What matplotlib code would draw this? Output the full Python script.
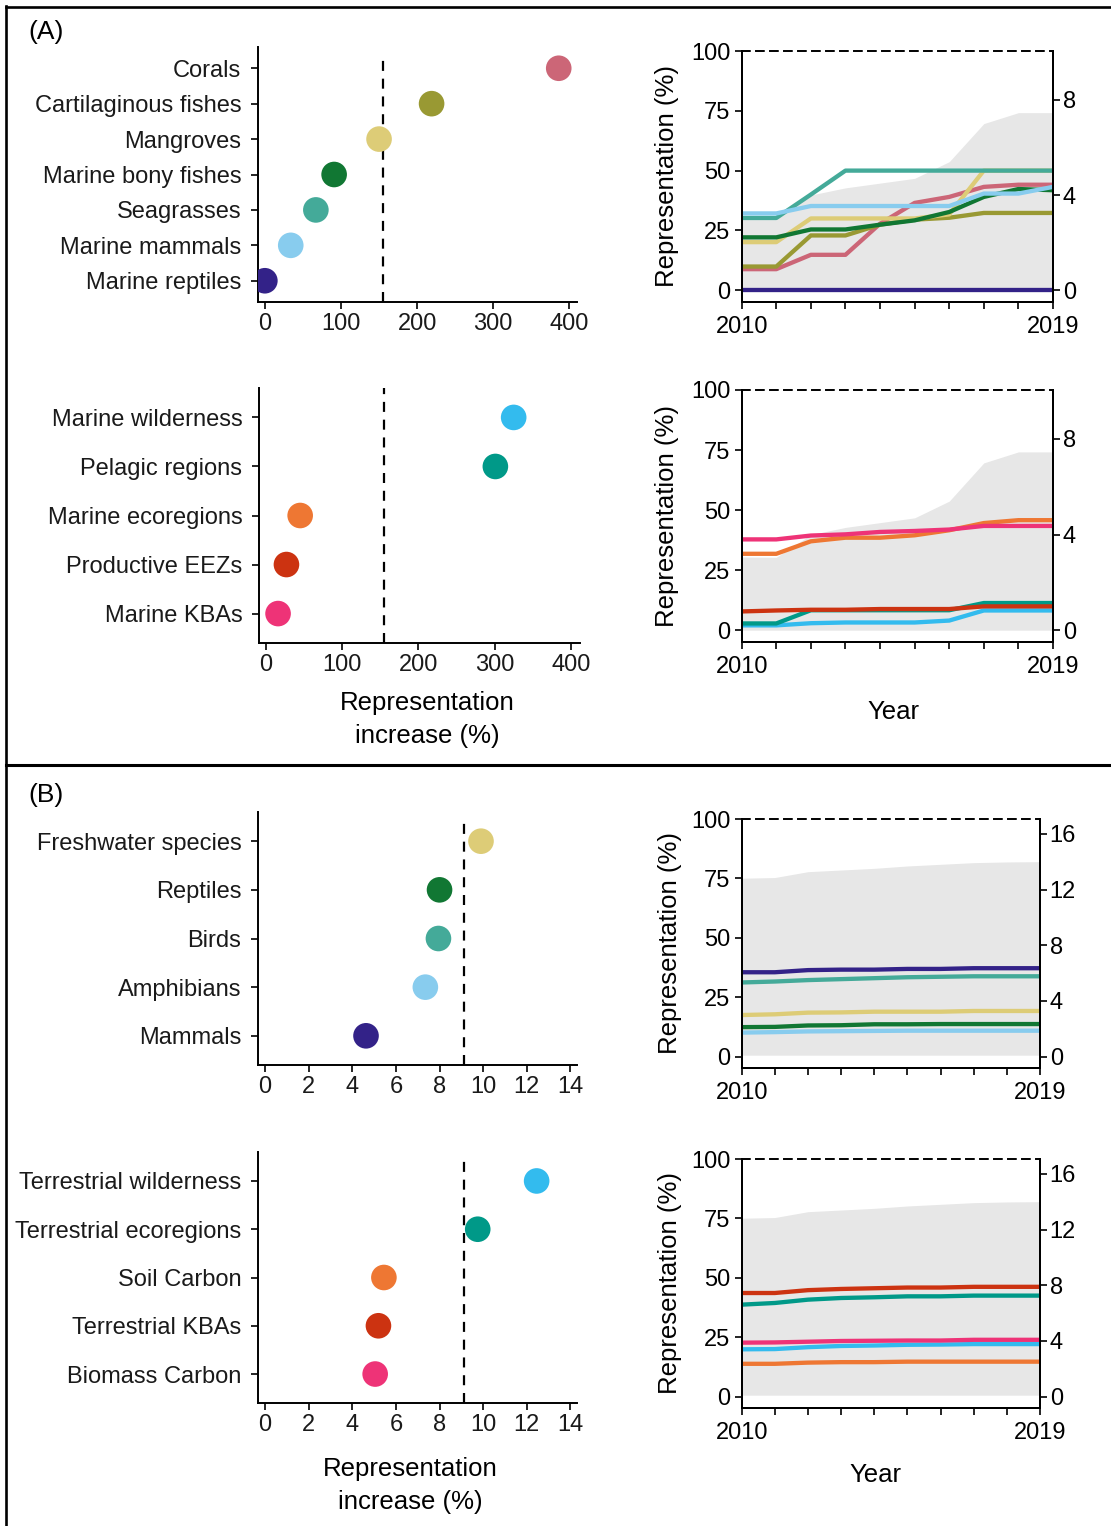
#!/usr/bin/env python3
"""Protected-area representation: increase per feature and yearly trend."""

import matplotlib

matplotlib.use("Agg")
import matplotlib.pyplot as plt
from matplotlib.lines import Line2D

W, H = 1111, 1526
plt.rcParams["font.family"] = ["Liberation Sans", "DejaVu Sans"]
plt.rcParams["font.size"] = 17
LABEL_SIZE = 18.5

YEARS = [2010, 2011, 2012, 2013, 2014, 2015, 2016, 2017, 2018, 2019]
GREY = "#e7e7e7"

# (A) marine species
marine_species = ["Corals", "Cartilaginous fishes", "Mangroves", "Marine bony fishes",
                  "Seagrasses", "Marine mammals", "Marine reptiles"]
marine_species_increase = [386, 219, 150, 91, 67, 34, 0]
marine_species_colors = ["#CC6677", "#999933", "#DDCC77", "#117733", "#44AA99", "#88CCEE", "#332288"]
corals_rep = [8.8, 8.8, 14.8, 14.8, 27.8, 36.5, 39.0, 43.2, 44.1, 44.1]
cartilaginous_rep = [9.9, 9.9, 22.9, 22.9, 27.4, 29.5, 30.3, 32.3, 32.3, 32.3]
mangroves_rep = [20.1, 20.1, 30.0, 30.0, 30.0, 30.0, 31.7, 50.0, 50.0, 50.0]
bony_fishes_rep = [22.1, 22.1, 25.4, 25.4, 27.4, 29.2, 32.7, 39.0, 42.3, 41.8]
seagrasses_rep = [30.2, 30.2, 40.0, 50.0, 50.0, 50.0, 50.0, 50.0, 50.0, 50.0]
marine_mammals_rep = [32.1, 32.1, 35.2, 35.2, 35.2, 35.2, 35.2, 40.4, 40.4, 43.2]
marine_reptiles_rep = [0, 0, 0, 0, 0, 0, 0, 0, 0, 0]
marine_species_rep = [corals_rep, cartilaginous_rep, mangroves_rep, bony_fishes_rep,
                      seagrasses_rep, marine_mammals_rep, marine_reptiles_rep]

# (A) marine features
marine_features = ["Marine wilderness", "Pelagic regions", "Marine ecoregions",
                   "Productive EEZs", "Marine KBAs"]
marine_features_increase = [325, 301, 45, 27, 16]
feature_colors = ["#33BBEE", "#009988", "#EE7733", "#CC3311", "#EE3377"]
marine_wilderness_rep = [2.0, 2.0, 2.9, 3.2, 3.2, 3.2, 4.0, 8.2, 8.2, 8.2]
pelagic_rep = [2.8, 2.8, 8.3, 8.3, 8.3, 8.3, 8.3, 11.3, 11.3, 11.3]
marine_ecoregions_rep = [31.8, 31.8, 37.0, 38.5, 38.5, 39.5, 41.6, 44.6, 45.8, 45.8]
eez_rep = [7.8, 8.2, 8.5, 8.5, 8.8, 8.8, 8.8, 9.9, 9.9, 9.9]
marine_kba_rep = [37.8, 37.8, 39.4, 39.9, 40.9, 41.3, 41.9, 43.4, 43.4, 43.4]
marine_features_rep = [marine_wilderness_rep, pelagic_rep, marine_ecoregions_rep,
                       eez_rep, marine_kba_rep]

marine_pa_total = [3.06, 3.05, 4.0, 4.3, 4.5, 4.7, 5.4, 7.0, 7.46, 7.46]
marine_increase_mean = 155

# (B) terrestrial species
terr_species = ["Freshwater species", "Reptiles", "Birds", "Amphibians", "Mammals"]
terr_species_increase = [9.9, 8.0, 7.95, 7.35, 4.63]
terr_species_colors = ["#DDCC77", "#117733", "#44AA99", "#88CCEE", "#332288"]
freshwater_rep = [17.5, 17.8, 18.5, 18.6, 18.9, 18.9, 18.9, 19.2, 19.2, 19.2]
reptiles_rep = [12.4, 12.5, 13.1, 13.2, 13.6, 13.6, 13.7, 13.7, 13.7, 13.7]
birds_rep = [31.2, 31.6, 32.2, 32.6, 33.0, 33.4, 33.6, 33.8, 33.8, 33.8]
amphibians_rep = [10.1, 10.3, 10.6, 10.7, 10.8, 10.9, 10.9, 10.9, 10.9, 10.9]
mammals_rep = [35.5, 35.5, 36.4, 36.6, 36.6, 36.9, 36.9, 37.2, 37.2, 37.2]
terr_species_rep = [freshwater_rep, reptiles_rep, birds_rep, amphibians_rep, mammals_rep]

# (B) terrestrial features
terr_features = ["Terrestrial wilderness", "Terrestrial ecoregions", "Soil Carbon",
                 "Terrestrial KBAs", "Biomass Carbon"]
terr_features_increase = [12.45, 9.75, 5.45, 5.2, 5.05]
terr_wilderness_rep = [19.9, 20.0, 20.8, 21.3, 21.5, 21.8, 21.9, 22.1, 22.1, 22.1]
terr_ecoregions_rep = [38.7, 39.4, 40.8, 41.5, 41.8, 42.2, 42.2, 42.5, 42.5, 42.5]
soil_carbon_rep = [13.8, 13.8, 14.3, 14.5, 14.5, 14.7, 14.7, 14.7, 14.7, 14.7]
terr_kba_rep = [43.6, 43.6, 44.8, 45.3, 45.6, 45.9, 45.9, 46.2, 46.2, 46.2]
biomass_carbon_rep = [22.7, 22.8, 23.1, 23.4, 23.5, 23.6, 23.6, 23.9, 23.9, 23.9]
terr_features_rep = [terr_wilderness_rep, terr_ecoregions_rep, soil_carbon_rep,
                     terr_kba_rep, biomass_carbon_rep]

terr_pa_total = [12.82, 12.87, 13.29, 13.41, 13.53, 13.70, 13.82, 13.94, 13.99, 14.01]
terr_increase_mean = 9.1


def px_axes(fig, left, top, right, bottom):
    return fig.add_axes([left / W, 1 - bottom / H, (right - left) / W, (bottom - top) / H])


def dot_chart(fig, box, names, values, colors, mean, xlim, xticks, vline_top=1.0):
    ax = px_axes(fig, *box)
    pos = list(range(len(names)))
    ax.scatter(values, pos, s=340, c=colors, zorder=3, linewidths=0)
    ax.axvline(mean, ymin=0, ymax=vline_top, color="black", lw=1.6, ls=(0, (4.5, 3.5)), zorder=2)
    ax.set_ylim(len(names) - 1 + 0.6, -0.6)
    ax.set_xlim(*xlim)
    ax.set_yticks(pos)
    ax.set_yticklabels(names, color="#1a1a1a")
    ax.set_xticks(xticks)
    ax.set_xticklabels([str(t) for t in xticks], color="#1a1a1a")
    for side in ("top", "right"):
        ax.spines[side].set_visible(False)
    for side in ("left", "bottom"):
        ax.spines[side].set_linewidth(1.4)
    ax.tick_params(axis="y", length=5, width=1.2, pad=7)
    ax.tick_params(axis="x", length=5, width=1.2, pad=3)
    return ax


def trend_chart(fig, box, series, colors, pa_total, ratio, right_ticks, floor):
    ax = px_axes(fig, *box)
    ax2 = ax.twinx()
    ax.set_zorder(ax2.get_zorder() + 1)
    ax.patch.set_visible(False)
    lo = -0.048 * 100
    ax.set_ylim(lo, 100)
    ax2.set_ylim(lo / ratio, 100 / ratio)
    ax2.fill_between(YEARS, floor, pa_total, color=GREY, lw=0)
    for vals, col in zip(series, colors):
        ax.plot(YEARS, vals, color=col, lw=3.1, solid_capstyle="butt")
    ax.set_xlim(YEARS[0], YEARS[-1])
    ax.set_xticks(YEARS)
    ax.set_xticklabels([str(YEARS[0])] + [""] * (len(YEARS) - 2) + [str(YEARS[-1])])
    ax.set_yticks([0, 25, 50, 75, 100])
    ax2.set_yticks(right_ticks)
    for a in (ax, ax2):
        for side in ("left", "right", "bottom"):
            a.spines[side].set_linewidth(1.4)
        a.spines["top"].set_linewidth(1.4)
        a.spines["top"].set_linestyle((0, (4, 3.2)))
    ax2.spines["top"].set_visible(False)
    ax.tick_params(axis="y", length=5, width=1.2, pad=3)
    ax.tick_params(axis="x", length=5, width=1.2, pad=5)
    ax2.tick_params(axis="y", length=5, width=1.2, pad=2)
    ax.set_ylabel("Representation (%)", fontsize=LABEL_SIZE)
    ax.yaxis.set_label_coords(-0.2, 0.5)
    return ax


fig = plt.figure(figsize=(W / 100, H / 100), dpi=100)

# frame
fig.add_artist(Line2D([6 / W, 6 / W], [0, 1 - 6 / H], color="black", lw=1.9, transform=fig.transFigure))
fig.add_artist(Line2D([6 / W, 1], [1 - 7 / H, 1 - 7 / H], color="black", lw=1.9, transform=fig.transFigure))
fig.add_artist(Line2D([6 / W, 1], [1 - 765 / H, 1 - 765 / H], color="black", lw=2.2, transform=fig.transFigure))
fig.text(28 / W, 1 - 32 / H, "(A)", ha="left", va="center", fontsize=19)
fig.text(28 / W, 1 - 795 / H, "(B)", ha="left", va="center", fontsize=19)

# panel A
dot_chart(fig, (258, 47, 577, 302), marine_species, marine_species_increase, marine_species_colors,
          marine_increase_mean, (-9, 410), [0, 100, 200, 300, 400], vline_top=0.96)
ax = dot_chart(fig, (259, 388, 580, 643), marine_features, marine_features_increase, feature_colors,
               marine_increase_mean, (-9, 412), [0, 100, 200, 300, 400])
ax.set_xlabel("Representation\nincrease (%)", fontsize=LABEL_SIZE, linespacing=1.45)
ax.xaxis.set_label_coords(0.523, -0.19)

trend_chart(fig, (741.7, 51, 1053, 301.7), marine_species_rep, marine_species_colors,
            marine_pa_total, 9.95, [0, 4, 8], 0)
ax = trend_chart(fig, (741.7, 390, 1053, 641.7), marine_features_rep, feature_colors,
                 marine_pa_total, 9.95, [0, 4, 8], 0)
ax.set_xlabel("Year", fontsize=LABEL_SIZE)
ax.xaxis.set_label_coords(0.486, -0.23)

# panel B
dot_chart(fig, (258, 812, 577, 1065), terr_species, terr_species_increase, terr_species_colors,
          terr_increase_mean, (-0.32, 14.3), [0, 2, 4, 6, 8, 10, 12, 14], vline_top=0.968)
ax = dot_chart(fig, (258, 1152, 577, 1403), terr_features, terr_features_increase, feature_colors,
               terr_increase_mean, (-0.32, 14.3), [0, 2, 4, 6, 8, 10, 12, 14], vline_top=0.972)
ax.set_xlabel("Representation\nincrease (%)", fontsize=LABEL_SIZE, linespacing=1.45)
ax.xaxis.set_label_coords(0.476, -0.215)

trend_chart(fig, (741.7, 819, 1040, 1068), terr_species_rep, terr_species_colors,
            terr_pa_total, 5.856, [0, 4, 8, 12, 16], 0.1)
ax = trend_chart(fig, (741.7, 1159, 1040, 1408), terr_features_rep, feature_colors,
                 terr_pa_total, 5.856, [0, 4, 8, 12, 16], 0.1)
ax.set_xlabel("Year", fontsize=LABEL_SIZE)
ax.xaxis.set_label_coords(0.45, -0.22)

fig.savefig("out.png", dpi=100, facecolor="white")
